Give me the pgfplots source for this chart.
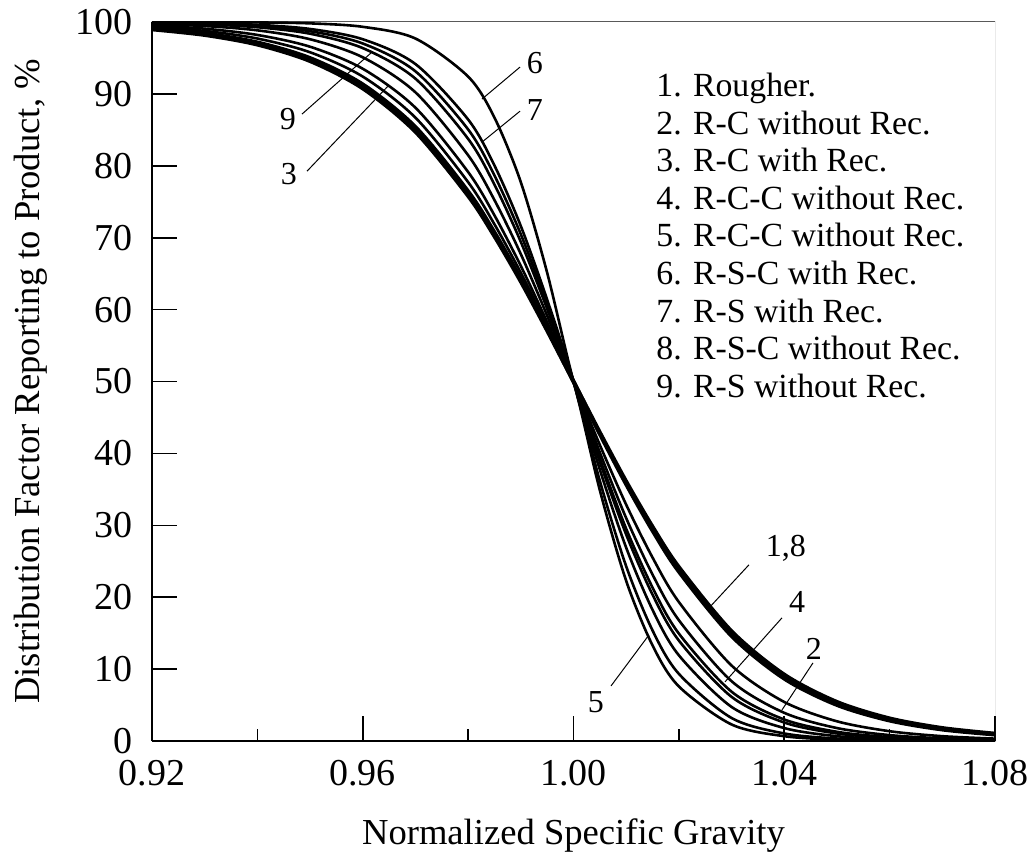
\documentclass[border=0pt]{standalone}
\usepackage{fontspec}
\setmainfont{Liberation Serif}
\usepackage{pgfplots}
\usepackage{pgfplotstable}
\pgfplotsset{compat=1.18}

\pgfplotstableread{
x c1 c2 c3 c4 c5 c6 c7 c8 c9
0.92 98.98 99.33 99.52 99.73 99.90 100.00 99.94 99.10 99.86
0.93 98.20 98.76 99.07 99.44 99.77 99.98 99.85 98.40 99.68
0.94 96.86 97.70 98.20 98.84 99.46 99.94 99.61 97.15 99.27
0.95 94.57 95.79 96.56 97.60 98.72 99.81 99.03 94.98 98.37
0.96 90.77 92.41 93.50 95.09 97.01 99.33 97.60 91.32 96.37
0.97 84.74 86.70 88.08 90.22 93.14 97.70 94.15 85.38 92.12
0.98 75.82 77.73 79.14 81.47 85.06 92.41 86.44 76.43 83.75
0.985 70.20 71.86 73.11 75.23 78.65 86.70 80.04 70.73 77.38
0.99 63.91 65.13 66.07 67.72 70.48 77.73 71.62 64.29 69.42
0.995 57.09 57.75 58.26 59.15 60.71 65.13 61.38 57.30 60.11
1.00 50 50 50 50 50 50 50 50 50
1.005 42.91 40.13 41.17 39.29 34.87 37.75 36.17 42.70 38.83
1.01 36.09 31.00 32.87 29.52 22.27 26.89 24.30 35.71 28.72
1.015 29.80 23.15 25.52 21.35 13.30 18.24 15.38 29.27 20.36
1.02 24.18 16.80 19.33 14.94 7.59 11.92 9.34 23.57 13.97
1.03 15.26 8.32 10.50 6.86 2.30 4.74 3.20 14.62 6.14
1.04 9.23 3.92 5.43 2.99 0.67 1.80 1.05 8.68 2.57
1.05 5.43 1.80 2.74 1.28 0.19 0.67 0.34 5.02 1.05
1.06 3.14 0.82 1.36 0.54 0.06 0.25 0.11 2.85 0.43
1.07 1.80 0.37 0.67 0.23 0.02 0.09 0.04 1.60 0.17
1.08 1.02 0.17 0.33 0.10 0.00 0.03 0.01 0.90 0.07
}\data

\begin{document}
\begin{tikzpicture}
\begin{axis}[
  name=ax, scale only axis, width=421.5pt, height=359.5pt,
  xmin=0.92, xmax=1.08, ymin=0, ymax=100,
  axis x line*=bottom, axis y line*=left,
  axis line style={line width=1pt, black, -},
  xtick={0.92,0.96,1.00,1.04,1.08},
  xticklabels={0.92,0.96,1.00,1.04,1.08},
  minor xtick={0.94,0.98,1.02,1.06},
  ytick={0,10,20,30,40,50,60,70,80,90,100},
  yticklabels={0,10,20,30,40,50,60,70,80,90,100},
  tick align=inside, major tick length=12.5pt, minor tick length=6pt,
  tick style={black, line width=0.8pt},
  ticklabel style={font=\fontsize{19}{22}\selectfont},
  xticklabel style={yshift=-6pt},
  yticklabel style={xshift=-6pt},
  xlabel={Normalized Specific Gravity},
  ylabel={Distribution Factor Reporting to Product, \%},
  label style={font=\fontsize{18.3}{22}\selectfont},
  xlabel style={at={(axis description cs:0.5,-0.1446)}, anchor=base},
  ylabel style={at={(axis description cs:-0.1435,0.5)}, anchor=center},
]
\draw[gray!70!black, line width=0.5pt] (rel axis cs:0,1) -- (rel axis cs:1,1) -- (rel axis cs:1,0);

\addplot[black, line width=1.3pt, smooth] table[x=x,y=c2]{\data};
\addplot[black, line width=1.3pt, smooth] table[x=x,y=c3]{\data};
\addplot[black, line width=1.3pt, smooth] table[x=x,y=c4]{\data};
\addplot[black, line width=1.3pt, smooth] table[x=x,y=c5]{\data};
\addplot[black, line width=1.3pt, smooth] table[x=x,y=c6]{\data};
\addplot[black, line width=1.3pt, smooth] table[x=x,y=c7]{\data};
\addplot[black, line width=1.3pt, smooth] table[x=x,y=c9]{\data};
\addplot[black, line width=2pt, smooth] table[x=x,y=c1]{\data};
\addplot[black, line width=2pt, smooth] table[x=x,y=c8]{\data};

% leader lines
\draw[line width=0.5pt] (axis cs:0.98263,89.28) -- (axis cs:0.98985,93.73);
\draw[line width=0.5pt] (axis cs:0.98263,83.29) -- (axis cs:0.98985,87.60);
\draw[line width=0.5pt] (axis cs:0.96176,95.82) -- (axis cs:0.94847,87.19);
\draw[line width=0.5pt] (axis cs:0.96498,91.23) -- (axis cs:0.94942,79.25);
\draw[line width=0.5pt] (axis cs:1.02591,18.66) -- (axis cs:1.03331,24.51);
\draw[line width=0.5pt] (axis cs:1.02875,8.22) -- (axis cs:1.03957,17.13);
\draw[line width=0.5pt] (axis cs:1.03957,4.32) -- (axis cs:1.04545,10.86);
\draw[line width=0.5pt] (axis cs:1.01433,14.76) -- (axis cs:1.00712,7.66);

\begin{scope}[every node/.style={font=\fontsize{16}{19}\selectfont, inner sep=0pt}]
\node at (axis cs:0.99269,94.29) {6};
\node at (axis cs:0.99269,87.74) {7};
\node at (axis cs:0.94581,86.49) {9};
\node at (axis cs:0.94600,78.83) {3};
\node at (axis cs:1.04033,26.74) {1,8};
\node at (axis cs:1.04242,19.36) {4};
\node at (axis cs:1.04564,12.81) {2};
\node at (axis cs:1.00427,5.43) {5};
\end{scope}

\begin{scope}[every node/.style={font=\fontsize{16.9}{18.75}\selectfont, inner sep=0pt, anchor=base west}]
\node at (axis cs:1.01566,89.61) {1. Rougher.};
\node at (axis cs:1.01566,84.39) {2. R-C without Rec.};
\node at (axis cs:1.01566,79.16) {3. R-C with Rec.};
\node at (axis cs:1.01566,73.94) {4. R-C-C without Rec.};
\node at (axis cs:1.01566,68.72) {5. R-C-C without Rec.};
\node at (axis cs:1.01566,63.50) {6. R-S-C with Rec.};
\node at (axis cs:1.01566,58.27) {7. R-S with Rec.};
\node at (axis cs:1.01566,53.05) {8. R-S-C without Rec.};
\node at (axis cs:1.01566,47.83) {9. R-S without Rec.};
\end{scope}
\end{axis}
\pgfresetboundingbox
\path ([xshift=-76pt,yshift=-58.5pt]ax.south west) rectangle ([xshift=19.5pt,yshift=11pt]ax.north east);
\end{tikzpicture}
\end{document}
